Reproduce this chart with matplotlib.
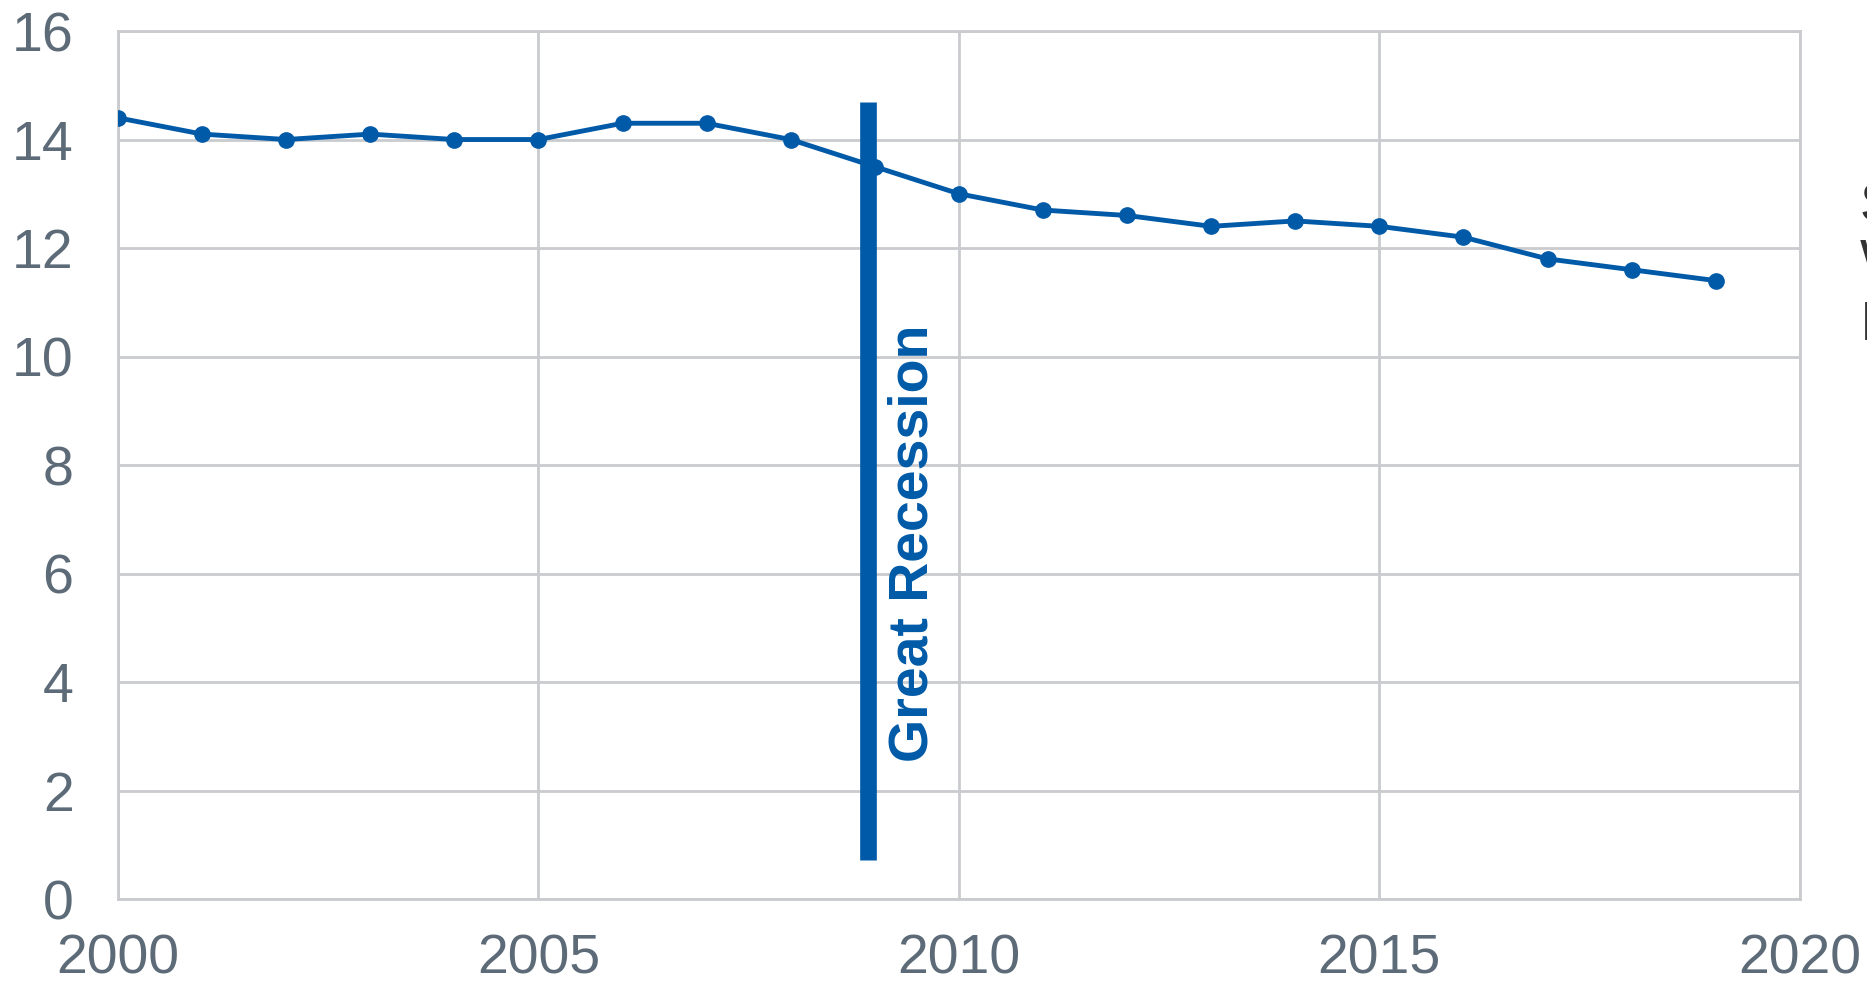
import matplotlib.pyplot as plt
import numpy as np

years = list(range(2000, 2020))
values = [14.4, 14.1, 14.0, 14.1, 14.0, 14.0, 14.3, 14.3, 14.0, 13.5,
          13.0, 12.7, 12.6, 12.4, 12.5, 12.4, 12.2, 11.8, 11.6, 11.4]

recession_year = 2008.92
recession_span = [0.72, 14.7]
recession_label = 'Great Recession'

xticks = [2000, 2005, 2010, 2015, 2020]
yticks = [0, 2, 4, 6, 8, 10, 12, 14, 16]

blue = '#005aa7'
grid_col = '#c9cbcf'
tick_col = '#5d6b78'

plt.rcParams['font.family'] = ['Liberation Sans', 'DejaVu Sans']

fig = plt.figure(figsize=(18.67, 9.88), dpi=100)
ax = fig.add_axes([0.0632, 0.090, 0.9008, 0.8786])

ax.plot(years, values, color=blue, lw=3.5, marker='o', ms=11, zorder=3)

ax.vlines(recession_year, recession_span[0], recession_span[1], color=blue, lw=12, zorder=4)
ax.text(recession_year + 0.54, 6.56, recession_label, rotation=90, color=blue,
        fontsize=40, fontweight='bold', ha='center', va='center')

ax.set_xlim(2000, 2020)
ax.set_ylim(0, 16)
ax.set_xticks(xticks)
ax.set_yticks(yticks)
ax.grid(True, color=grid_col, lw=2)
ax.set_axisbelow(True)
for s in ax.spines.values():
    s.set_color(grid_col)
    s.set_linewidth(2)
ax.tick_params(length=0, labelsize=40, colors=tick_col)
ax.tick_params(axis='y', pad=32)
ax.tick_params(axis='x', pad=25)

# legend text cut off at the right edge of the original
for yy, s in zip([0.79, 0.733, 0.67], ['S', 'W', 'I']):
    fig.text(0.9962, yy, s, fontsize=40, color='#333333', va='center', ha='left')

plt.savefig('out.png', dpi=100)
